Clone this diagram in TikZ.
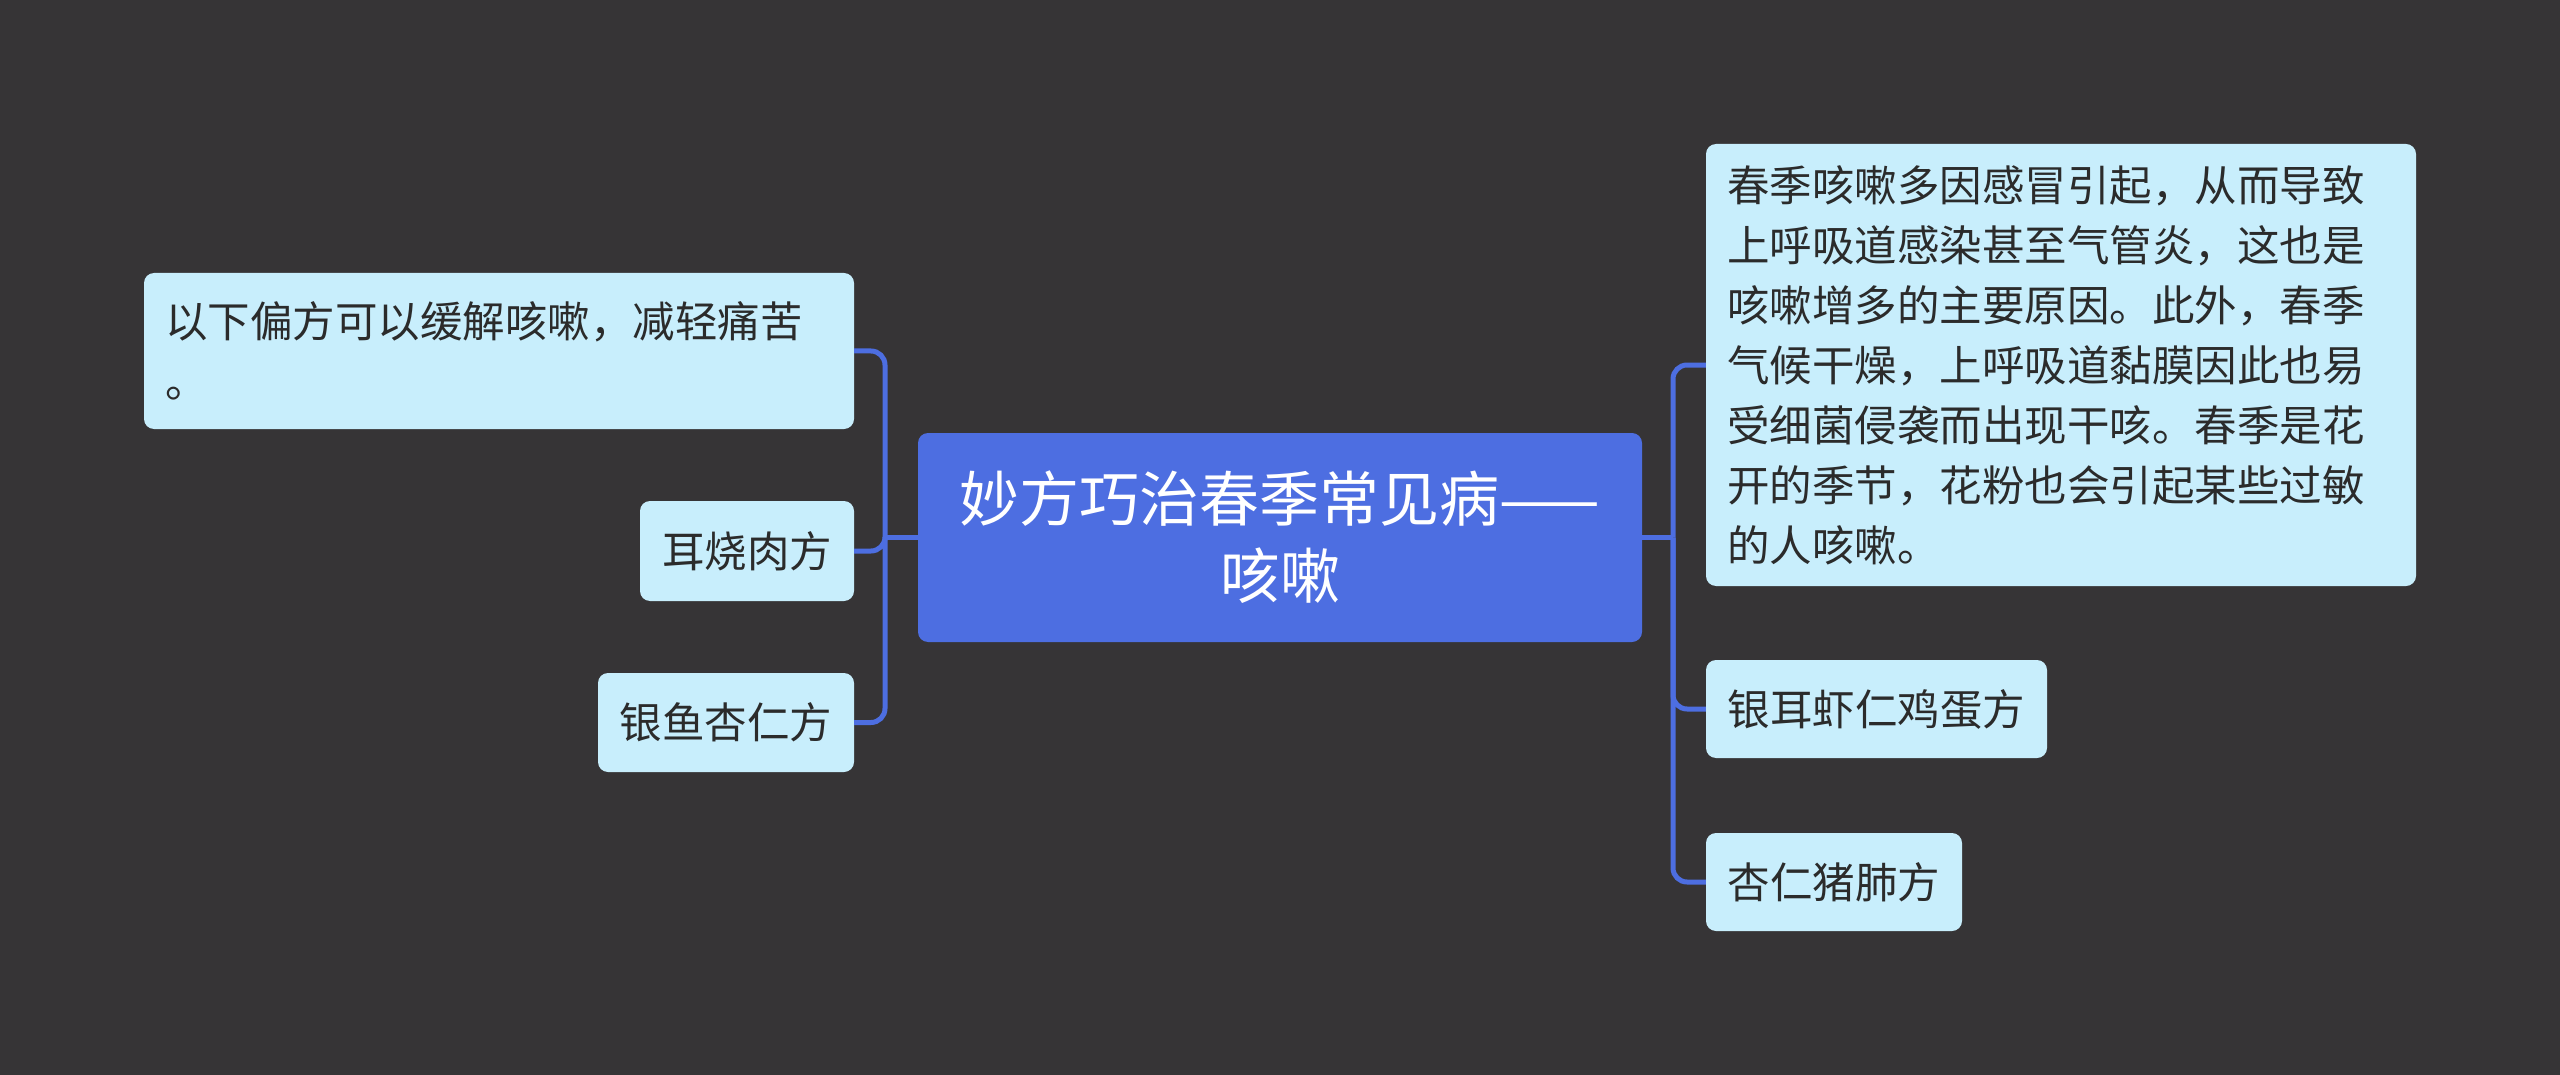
\documentclass[tikz,border=0pt]{standalone}
\usepackage{fontspec}
\newfontfamily\cjk{Noto Sans CJK SC}
\definecolor{bg}{HTML}{363436}
\definecolor{hub}{HTML}{4D6EE1}
\definecolor{leaf}{HTML}{C8EEFC}
\definecolor{ink}{HTML}{2B2B2B}
\tikzset{
 leafbox/.style={fill=leaf, rounded corners=10pt, inner sep=0pt, text=ink, font=\cjk\fontsize{42.5}{60}\selectfont},
 hubbox/.style={fill=hub, rounded corners=10pt, inner sep=0pt, text=white, font=\cjk\fontsize{60}{77}\selectfont, align=center},
 conn/.style={draw=hub, line width=5pt, rounded corners=14pt}
}
\begin{document}
\begin{tikzpicture}[x=1pt,y=-1pt]
\fill[bg] (0,0) rectangle (2560,1075);
\useasboundingbox (0,0) rectangle (2560,1075);
\coordinate (bl) at (885,537.5);
\coordinate (br) at (1673,537.5);
\node[hubbox, minimum width=724pt, minimum height=209pt] (c) at (1280,537.5) {妙方巧治春季常见病——\\咳嗽};
\node[leafbox, minimum width=710pt, minimum height=156pt, text width=668pt, align=left] (l1) at (499,351) {以下偏方可以缓解咳嗽，减轻痛苦\\。};
\node[leafbox, minimum width=214pt, minimum height=100pt] (l2) at (747,551) {耳烧肉方};
\node[leafbox, minimum width=256pt, minimum height=99pt] (l3) at (726,722.5) {银鱼杏仁方};
\node[leafbox, minimum width=710pt, minimum height=442pt, text width=668pt, align=left] (r1) at (2061,365) {春季咳嗽多因感冒引起，从而导致\\上呼吸道感染甚至气管炎，这也是\\咳嗽增多的主要原因。此外，春季\\气候干燥，上呼吸道黏膜因此也易\\受细菌侵袭而出现干咳。春季是花\\开的季节，花粉也会引起某些过敏\\的人咳嗽。};
\node[leafbox, minimum width=341pt, minimum height=98pt] (r2) at (1876.5,709) {银耳虾仁鸡蛋方};
\node[leafbox, minimum width=256pt, minimum height=98pt] (r3) at (1834,882) {杏仁猪肺方};
\draw[conn] (c.west) -- (bl);
\draw[conn] (c.east) -- (br);
\draw[conn] (bl) |- (l1.east);
\draw[conn] (bl) |- (l2.east);
\draw[conn] (bl) |- (l3.east);
\draw[conn] (br) |- (r1.west);
\draw[conn] (br) |- (r2.west);
\draw[conn] (br) |- (r3.west);
\end{tikzpicture}
\end{document}
